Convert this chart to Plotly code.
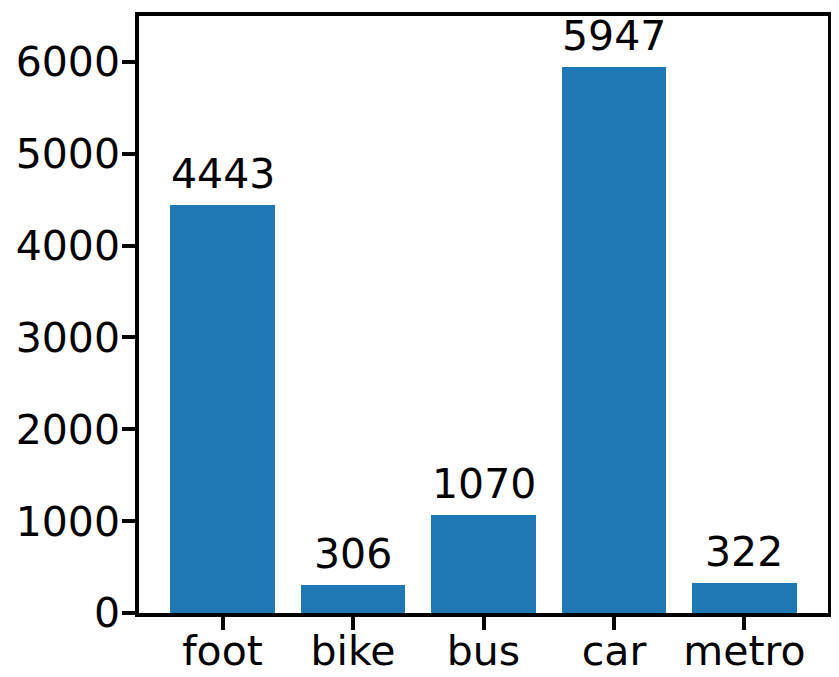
import plotly.graph_objects as go

categories = ["foot", "bike", "bus", "car", "metro"]
counts = [4443, 306, 1070, 5947, 322]
ytick_vals = [0, 1000, 2000, 3000, 4000, 5000, 6000]

FONT = "DejaVu Sans"
FS = 41
fig = go.Figure()
fig.add_trace(go.Bar(
    x=categories, y=counts, width=0.8,
    marker=dict(color="#1f77b4", line=dict(width=0)),
))
for c, v in zip(categories, counts):
    fig.add_annotation(x=c, y=v, text=str(v), showarrow=False,
                       yanchor="bottom", yshift=5,
                       font=dict(family=FONT, size=FS, color="black"))

fig.update_layout(
    width=831, height=669,
    margin=dict(l=131, r=11, t=8, b=64, autoexpand=False),
    plot_bgcolor="white", paper_bgcolor="white",
    showlegend=False,
    font=dict(family=FONT, size=FS, color="black"),
    bargap=0,
)
fig.update_xaxes(range=[-0.64, 4.64], showline=True, linecolor="black", linewidth=3.5,
                 mirror=True, ticks="outside", ticklen=13, tickwidth=3.5, tickcolor="black",
                 showgrid=False, automargin=False, ticklabelstandoff=-14,
                 tickfont=dict(family=FONT, size=FS, color="black"))
fig.update_yaxes(range=[0, 6500], tickvals=ytick_vals, showline=True, linecolor="black",
                 linewidth=3.5, mirror=True, ticks="outside", ticklen=13, tickwidth=3.5,
                 tickcolor="black", showgrid=False, zeroline=False, automargin=False,
                 ticklabelstandoff=-6,
                 tickfont=dict(family=FONT, size=FS, color="black"))
fig.write_html("out.html")
